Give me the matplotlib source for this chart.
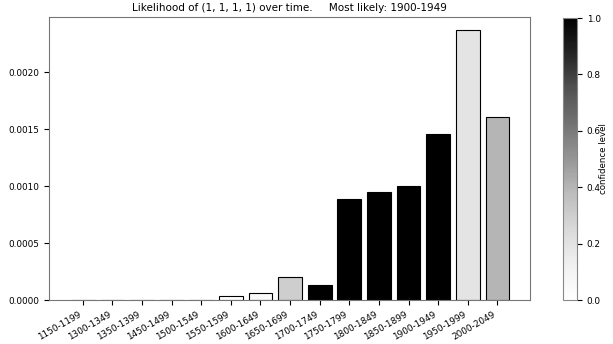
import matplotlib
matplotlib.use("Agg")
import matplotlib.pyplot as plt
import numpy as np

categories = ["1150-1199", "1300-1349", "1350-1399", "1450-1499", "1500-1549",
              "1550-1599", "1600-1649", "1650-1699", "1700-1749", "1750-1799",
              "1800-1849", "1850-1899", "1900-1949", "1950-1999", "2000-2049"]
likelihood = [0.0, 0.0, 0.0, 0.0, 0.0,
              0.000032, 0.000064, 0.000202, 0.000132, 0.000888,
              0.000947, 0.001003, 0.001457, 0.002366, 0.00161]
confidence = [0.0, 0.0, 0.0, 0.0, 0.0,
              0.0, 0.04, 0.3, 1.0, 1.0,
              1.0, 1.0, 1.0, 0.19, 0.4]

fig = plt.figure(figsize=(6.13, 3.44), dpi=100)
ax = fig.add_axes([49/613, 1-300/344, 481/613, 283/344])
cax = fig.add_axes([563/613, 1-300/344, 14/613, 282/344])

cmap = plt.cm.Greys
norm = matplotlib.colors.Normalize(0, 1)
x = np.arange(len(categories))
ax.bar(x, likelihood, width=0.8, color=cmap(norm(confidence)), edgecolor="black", linewidth=0.8)
ax.set_xticks(x)
ax.set_xticklabels(categories, rotation=30, ha="right", fontsize=6.4)
ax.tick_params(axis="y", labelsize=6.4)
ax.set_xlim(-1.14, 15.1)
ax.set_ylim(0, max(likelihood) * 1.05)
ax.set_yticks([0, 0.0005, 0.001, 0.0015, 0.002])
ax.set_yticklabels(["0.0000", "0.0005", "0.0010", "0.0015", "0.0020"])
for s in ax.spines.values():
    s.set_edgecolor("#777777")
ax.set_title("Likelihood of (1, 1, 1, 1) over time.     Most likely: 1900-1949", fontsize=7.5, pad=4)

sm = matplotlib.cm.ScalarMappable(norm=norm, cmap=cmap)
cb = fig.colorbar(sm, cax=cax)
cb.outline.set_edgecolor("#888888")
cb.ax.tick_params(labelsize=6.4)
cb.set_label("confidence level", fontsize=6.2, labelpad=-1)

fig.savefig("out.png", dpi=100)
